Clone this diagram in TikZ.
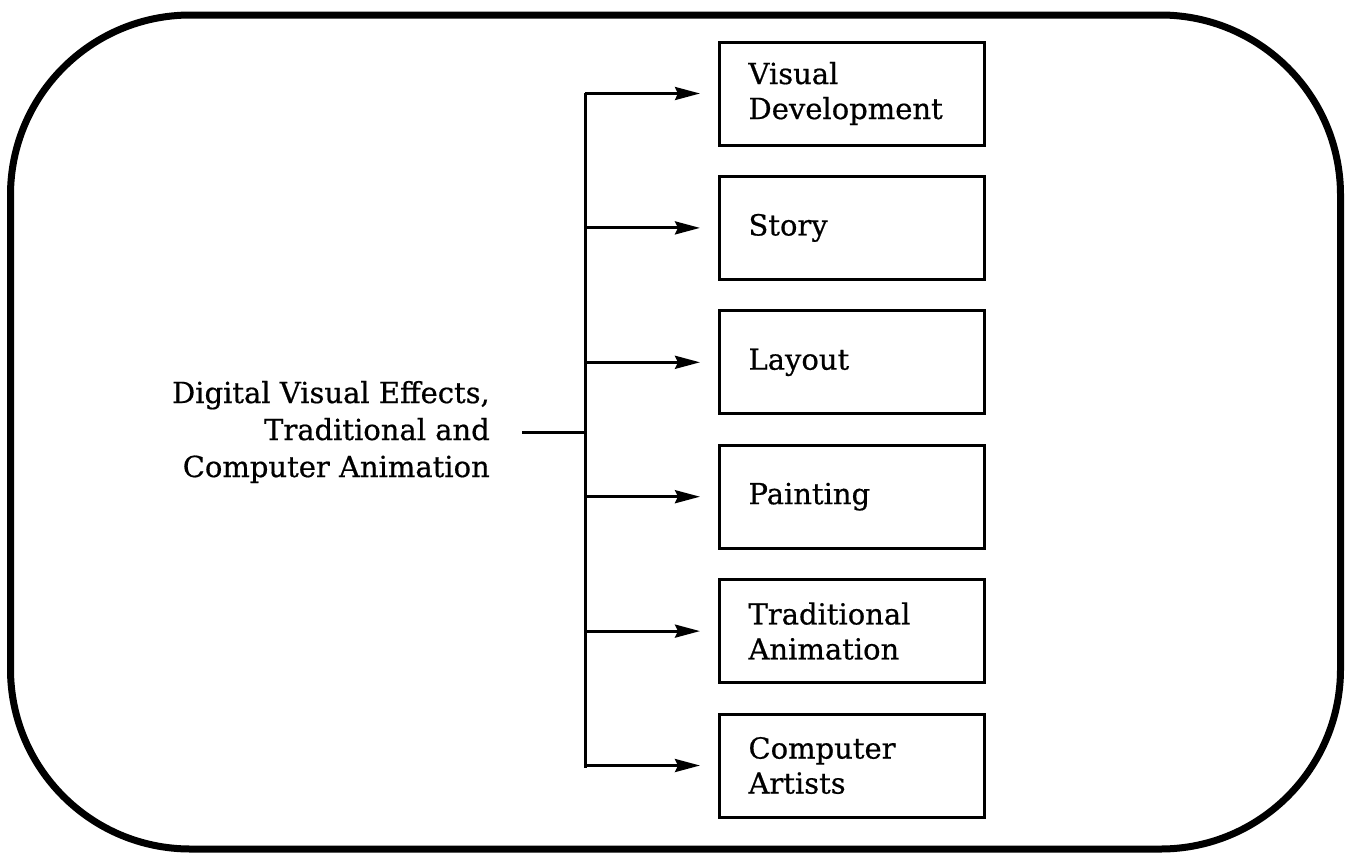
\documentclass[tikz,border=0pt]{standalone}
\usepackage{fontspec}
\setmainfont{DejaVu Serif}[FakeBold=0.6]
\usetikzlibrary{arrows.meta}
\usetikzlibrary{positioning}

\tikzset{
  jobbox/.style={draw, line width=3pt, minimum width=265pt, minimum height=103pt,
    text width=207pt, align=left, inner xsep=29pt, inner ysep=0pt,
    font=\fontsize{29}{35}\selectfont},
  busline/.style={line width=3pt},
  feed/.style={line width=3pt, -{Stealth[length=25pt, width=13pt, inset=3pt]}, shorten >=18pt}
}

\begin{document}
\begin{tikzpicture} [x=1pt, y=-1pt]
\useasboundingbox (0,0) rectangle (1351,855);
\draw[line width=7pt, rounded corners=180pt] (10.5,15) rectangle (1340.5,849);

\node[anchor=east, align=right, inner sep=0pt, font=\fontsize{29}{37}\selectfont] (field) at (490,432) {Digital Visual Effects,\\Traditional and\\Computer Animation};

\coordinate (bustop) at (585,93);
\coordinate (busbot) at (585,768);
\draw[busline] (bustop) -- (busbot);
\draw[busline] ([xshift=32pt]field.east) -- (field.east -| bustop);

\foreach \job [count=\i] in {{Visual\\Development}, Story, Layout, Painting, {Traditional\\Animation}, {Computer\\Artists}} {
  \pgfmathsetmacro\yy{93.5+134.4*(\i-1)}
  \node[jobbox, anchor=west] (job\i) at (718,\yy) {\job};
  \draw[feed] (bustop |- job\i.west) -- (job\i.west);
}

\end{tikzpicture}
\end{document}
